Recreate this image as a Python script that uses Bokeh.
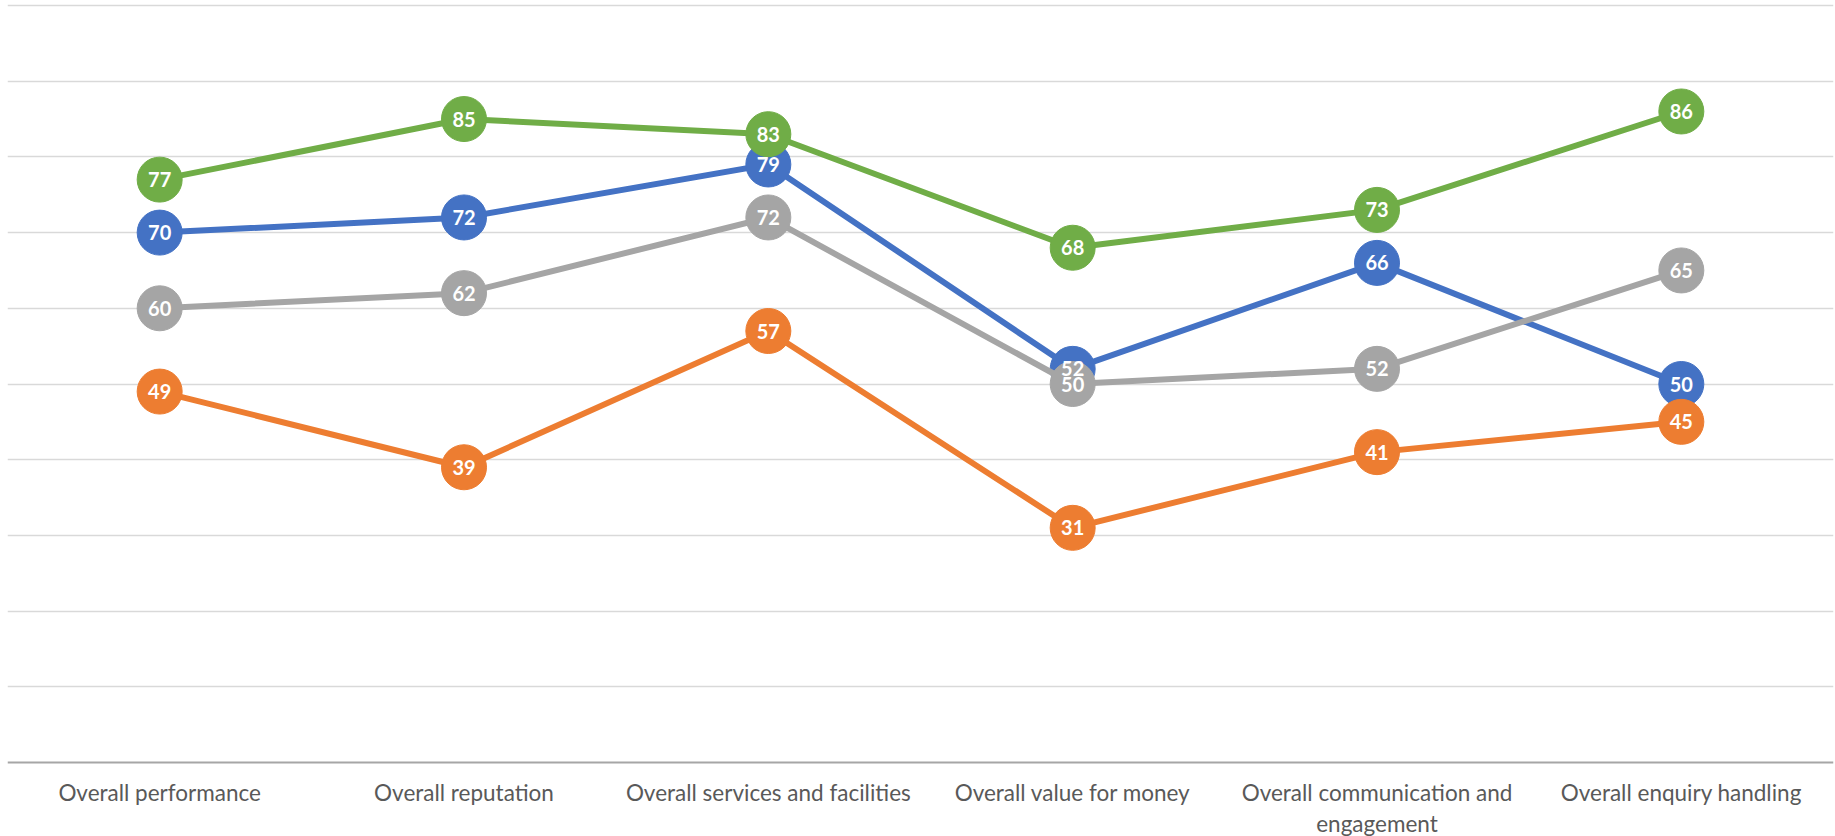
from bokeh.plotting import figure
from bokeh.models import Range1d, FactorRange, FixedTicker, ColumnDataSource, Span
from bokeh.core.properties import value
from bokeh.embed import file_html
from bokeh.resources import INLINE

categories = [
    "Overall performance",
    "Overall reputation",
    "Overall services and facilities",
    "Overall value for money",
    "Overall communication and\nengagement",
    "Overall enquiry handling",
]

blue_vals = [70, 72, 79, 52, 66, 50]
orange_vals = [49, 39, 57, 31, 41, 45]
gray_vals = [60, 62, 72, 50, 52, 65]
green_vals = [77, 85, 83, 68, 73, 86]

series = [
    ("blue", blue_vals, "#4472C4"),
    ("orange", orange_vals, "#ED7D31"),
    ("gray", gray_vals, "#A5A5A5"),
    ("green", green_vals, "#70AD47"),
]

grid_ticks = [10, 20, 30, 40, 50, 60, 70, 80, 90, 100]

# layout: frame spans the canvas height; value range 0..100 occupies y=5..762
W, H = 1835, 836
top_pad_px = 5.0
plot_px = 757.0
px_per_unit = plot_px / 100.0
bottom_units = (H - top_pad_px - plot_px) / px_per_unit
top_units = top_pad_px / px_per_unit

p = figure(
    width=W, height=H,
    x_range=FactorRange(factors=categories, range_padding=0),
    y_range=Range1d(-bottom_units, 100 + top_units),
    output_backend="svg", toolbar_location=None,
    x_axis_location=None, y_axis_location=None,
    min_border_left=7, min_border_right=2, min_border_top=0, min_border_bottom=0,
)
p.outline_line_color = None
p.background_fill_color = "white"
p.border_fill_color = "white"

p.xgrid.grid_line_color = None
p.ygrid.ticker = FixedTicker(ticks=grid_ticks)
p.ygrid.grid_line_color = "#d9d9d9"
p.ygrid.grid_line_width = 1.5

# category axis baseline at value 0
p.add_layout(Span(location=0, dimension="width", line_color="#a6a6a6", line_width=2))

for name, vals, col in series:
    src = ColumnDataSource(dict(x=categories, y=vals))
    p.line("x", "y", source=src, line_color=col, line_width=6)
    p.scatter("x", "y", source=src, size=45, fill_color=col, line_color=col, line_width=1)

for name, vals, col in series:
    src = ColumnDataSource(dict(x=categories, y=vals, t=[str(v) for v in vals]))
    p.text("x", "y", text="t", source=src, text_color="white",
           text_font=value("Lato"), text_font_style="bold", text_font_size="20px",
           text_align="center", text_baseline="middle")

# category tick labels, placed just below the baseline
label_gap_px = 16
cat_src = ColumnDataSource(dict(x=categories,
                                y=[-label_gap_px / px_per_unit] * len(categories),
                                t=categories))
p.text("x", "y", text="t", source=cat_src,
       text_font=value("Lato"), text_font_size="22.5px", text_color="#595959",
       text_align="center", text_baseline="top", text_line_height=1.18)

open("out.html", "w").write(file_html(p, INLINE))
